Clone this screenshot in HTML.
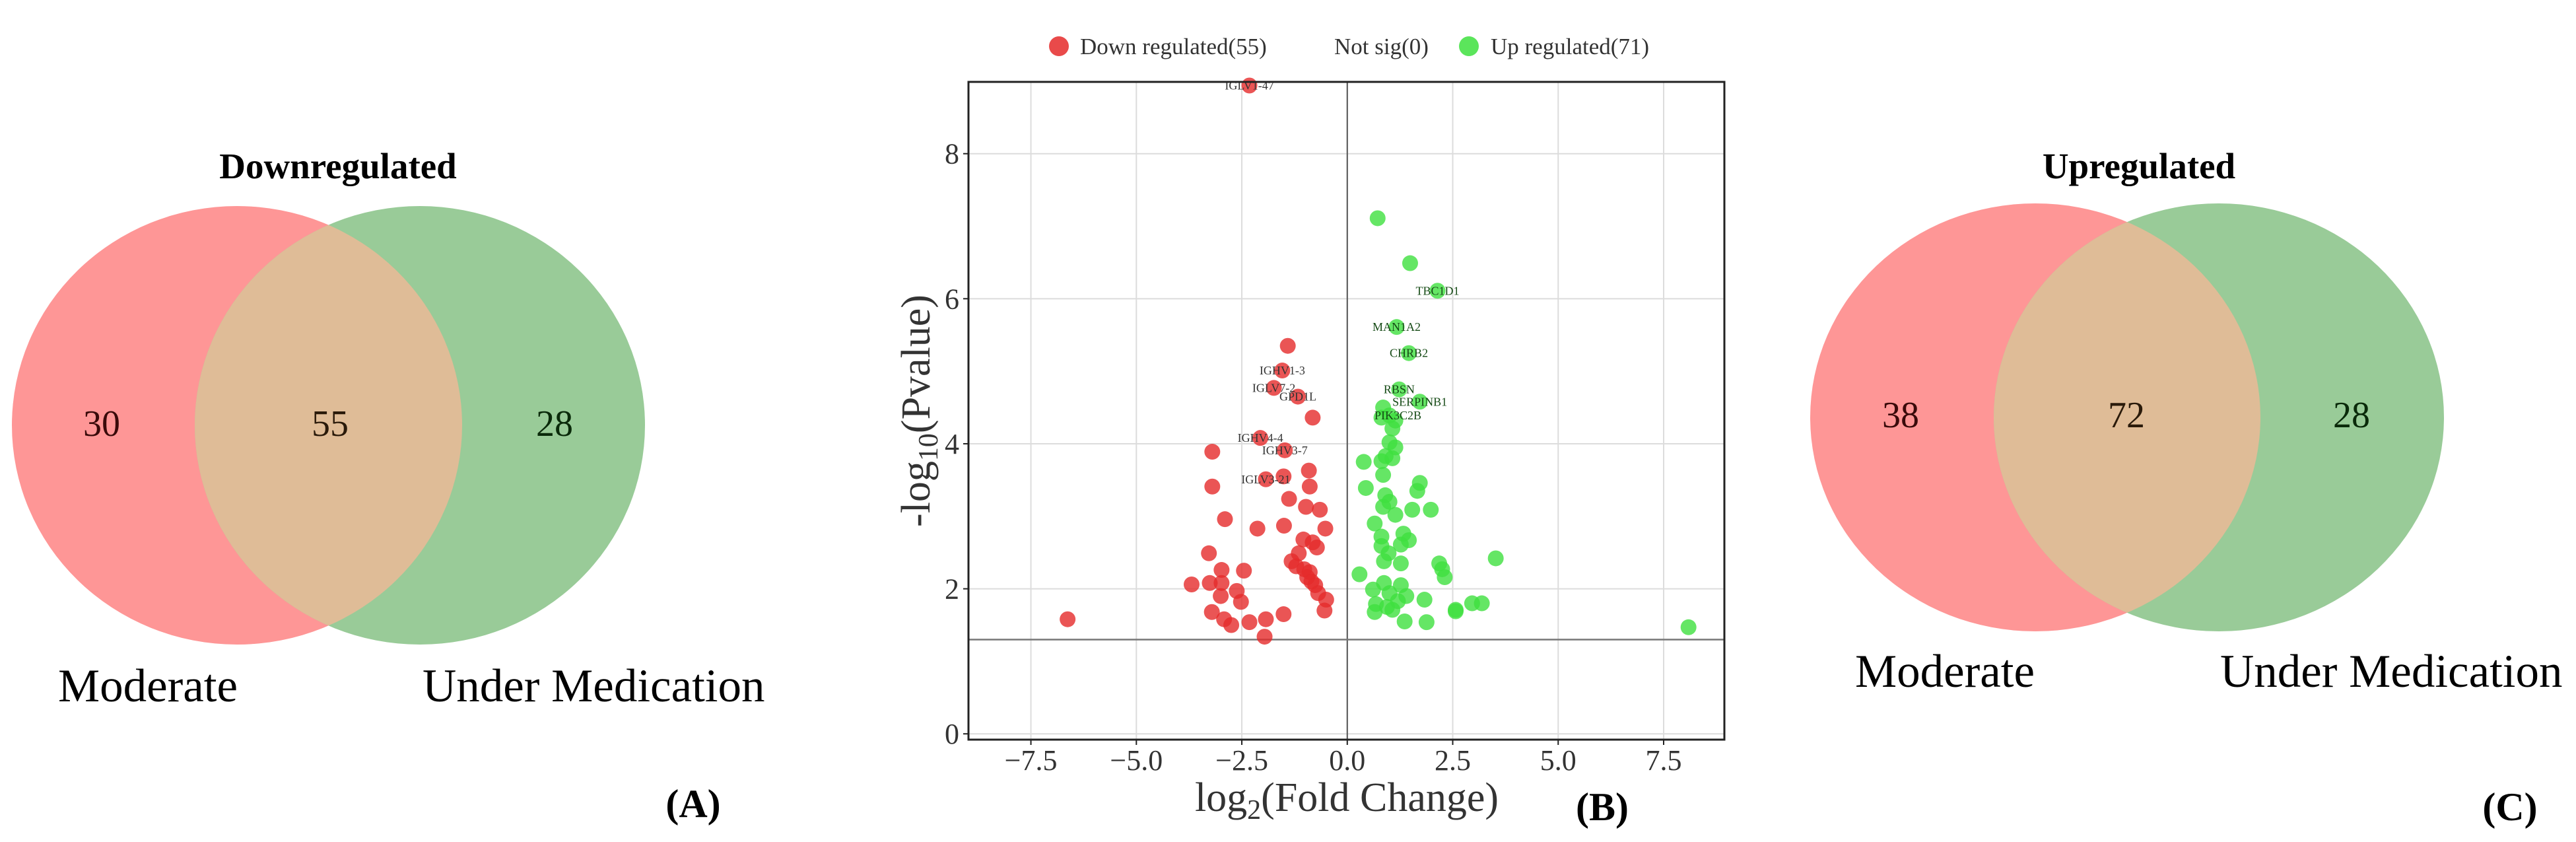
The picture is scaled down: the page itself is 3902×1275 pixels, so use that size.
<!DOCTYPE html>
<html><head><meta charset="utf-8"><style>
html,body{margin:0;padding:0;background:#fff;}
svg{display:block;font-family:"Liberation Serif",serif;}
</style></head><body>
<svg id="fig" width="3902" height="1275" viewBox="0 0 3902 1275" xmlns="http://www.w3.org/2000/svg">
<defs>
 <clipPath id="clipA"><ellipse cx="359" cy="644" rx="341" ry="332"/></clipPath>
 <clipPath id="clipC"><ellipse cx="3083" cy="632" rx="341" ry="324"/></clipPath>
</defs>
<g>
 <text x="512" y="270" font-size="55" font-weight="bold" text-anchor="middle">Downregulated</text>
 <ellipse cx="359" cy="644" rx="341" ry="332" fill="#fe9696"/>
 <ellipse cx="636" cy="644" rx="341" ry="332" fill="#99cb98"/>
 <ellipse cx="636" cy="644" rx="341" ry="332" fill="#dfbc97" clip-path="url(#clipA)"/>
 <text x="154" y="660" font-size="56" text-anchor="middle" fill="#3a0a0a">30</text>
 <text x="500" y="660" font-size="56" text-anchor="middle" fill="#2a1a0a">55</text>
 <text x="840" y="660" font-size="56" text-anchor="middle" fill="#0a2a0a">28</text>
 <text x="88" y="1062" font-size="71">Moderate</text>
 <text x="640" y="1062" font-size="71">Under Medication</text>
 <text x="1050" y="1237" font-size="60" font-weight="bold" text-anchor="middle">(A)</text>
</g>
<g>
 <text x="3240" y="270" font-size="55" font-weight="bold" text-anchor="middle">Upregulated</text>
 <ellipse cx="3083" cy="632" rx="341" ry="324" fill="#fe9696"/>
 <ellipse cx="3361" cy="632" rx="341" ry="324" fill="#99cb98"/>
 <ellipse cx="3361" cy="632" rx="341" ry="324" fill="#dfbc97" clip-path="url(#clipC)"/>
 <text x="2879" y="647" font-size="56" text-anchor="middle" fill="#3a0a0a">38</text>
 <text x="3221" y="647" font-size="56" text-anchor="middle" fill="#2a1a0a">72</text>
 <text x="3562" y="647" font-size="56" text-anchor="middle" fill="#0a2a0a">28</text>
 <text x="2810" y="1040" font-size="71">Moderate</text>
 <text x="3363" y="1040" font-size="71">Under Medication</text>
 <text x="3802" y="1242" font-size="60" font-weight="bold" text-anchor="middle">(C)</text>
</g>
<g id="volcano"></g>
</svg>
<script>
const xTicks=[-7.5,-5,-2.5,0,2.5,5,7.5];
const xTickLabels=["\u22127.5","\u22125.0","\u22122.5","0.0","2.5","5.0","7.5"];
const yTicks=[0,2,4,6,8];
const yTickLabels=["0","2","4","6","8"];
const threshold=1.3;
const downX=[-2.32,-6.63,-1.41,-1.54,-1.74,-1.17,-0.82,-2.06,-1.48,-3.2,-0.91,-3.2,-1.93,-1.51,-0.89,-1.38,-2.9,-0.98,-0.65,-2.13,-1.5,-0.52,-3.28,-1.04,-0.82,-0.72,-1.15,-1.32,-2.98,-2.45,-1.02,-0.89,-1.21,-3.69,-3.26,-2.98,-0.85,-0.76,-0.95,-2.62,-3.0,-2.52,-0.5,-3.21,-2.92,-2.75,-2.32,-1.93,-1.51,-0.54,-1.96,-0.69];
const downY=[8.94,1.58,5.35,5.01,4.77,4.65,4.36,4.08,3.91,3.89,3.63,3.41,3.51,3.55,3.41,3.24,2.96,3.13,3.09,2.83,2.87,2.83,2.49,2.68,2.64,2.57,2.49,2.38,2.26,2.25,2.27,2.23,2.31,2.06,2.08,2.08,2.1,2.05,2.16,1.97,1.9,1.82,1.85,1.68,1.58,1.5,1.54,1.58,1.65,1.7,1.34,1.94];
const upX=[0.72,1.49,2.14,1.17,1.46,1.23,1.72,0.85,1.0,0.81,1.14,1.07,1.0,1.14,0.91,1.07,0.39,0.81,0.85,1.72,1.66,0.44,0.9,1.0,0.85,1.54,1.98,1.14,0.65,0.81,1.33,1.46,1.27,0.81,0.98,3.52,0.87,1.27,2.18,2.25,0.29,2.31,0.87,1.27,0.61,1.0,1.4,1.83,2.96,3.19,0.68,0.94,2.57,0.65,1.07,2.57,1.36,1.88,8.09,1.2];
const upY=[7.11,6.49,6.11,5.61,5.25,4.75,4.58,4.5,4.39,4.36,4.32,4.21,4.02,3.95,3.83,3.8,3.75,3.76,3.57,3.46,3.35,3.39,3.29,3.2,3.13,3.09,3.09,3.02,2.9,2.72,2.76,2.67,2.61,2.59,2.49,2.42,2.38,2.35,2.35,2.27,2.2,2.16,2.08,2.05,1.99,1.94,1.9,1.85,1.8,1.8,1.79,1.75,1.71,1.68,1.71,1.69,1.55,1.54,1.47,1.83];
const geneNames=["IGLV1-47","IGHV1-3","IGLV7-2","GPD1L","IGHV4-4","IGHV3-7","IGLV3-21","TBC1D1","MAN1A2","CHRB2","RBSN","SERPINB1","PIK3C2B"];
const geneX=[-2.32,-1.54,-1.74,-1.17,-2.06,-1.48,-1.93,2.14,1.17,1.46,1.23,1.72,1.2];
const geneY=[8.94,5.01,4.77,4.65,4.08,3.91,3.51,6.11,5.61,5.25,4.75,4.58,4.39];

const NS="http://www.w3.org/2000/svg";
const g=document.getElementById('volcano');
const L=1467,R=2612,T=124,B=1120;
const xMin=-8.98,xMax=8.94,yMin=-0.08,yMax=8.99;
const sx=v=>L+(v-xMin)/(xMax-xMin)*(R-L);
const sy=v=>B-(v-yMin)/(yMax-yMin)*(B-T);
function mk(tag,attrs,parent){const e=document.createElementNS(NS,tag);for(const k in attrs)e.setAttribute(k,attrs[k]);(parent||g).appendChild(e);return e;}

xTicks.forEach(t=>{const e=mk('line',{x1:sx(t),x2:sx(t),y1:T,y2:B,stroke:'#dcdcdc','stroke-width':2});

});
yTicks.forEach(t=>{const e=mk('line',{x1:L,x2:R,y1:sy(t),y2:sy(t),stroke:'#dcdcdc','stroke-width':2});

});
let zl=mk('line',{x1:sx(0),x2:sx(0),y1:T,y2:B,stroke:'#555','stroke-width':2});


let th=mk('line',{x1:L,x2:R,y1:sy(threshold),y2:sy(threshold),stroke:'#777','stroke-width':2.5});


downX.forEach((v,i)=>{const c=mk('circle',{cx:sx(v),cy:sy(downY[i]),r:12,fill:'#e52a2a','fill-opacity':0.8});

});
upX.forEach((v,i)=>{const c=mk('circle',{cx:sx(v),cy:sy(upY[i]),r:12,fill:'#3ee03e','fill-opacity':0.8});

});
geneNames.forEach((n,i)=>{const t=mk('text',{x:sx(geneX[i]),y:sy(geneY[i])+6,'font-size':18,'text-anchor':'middle',fill:geneX[i]<0?'#333':'#154a15'});t.textContent=n;

});
let fr=mk('rect',{x:L,y:T,width:R-L,height:B-T,fill:'none',stroke:'#222','stroke-width':3});


xTicks.forEach((t,i)=>{mk('line',{x1:sx(t),x2:sx(t),y1:B,y2:B+8,stroke:'#222','stroke-width':2});
const l=mk('text',{x:sx(t),y:B+46,'font-size':44,'text-anchor':'middle',fill:'#333'});l.textContent=xTickLabels[i];

});
yTicks.forEach((t,i)=>{mk('line',{x1:L-8,x2:L,y1:sy(t),y2:sy(t),stroke:'#222','stroke-width':2});
const l=mk('text',{x:L-14,y:sy(t)+15,'font-size':44,'text-anchor':'end',fill:'#333'});l.textContent=yTickLabels[i];

});
let xt=mk('text',{x:2040,y:1228,'font-size':62,'text-anchor':'middle',fill:'#333'});
xt.innerHTML='log<tspan font-size="42" dy="12">2</tspan><tspan dy="-12">(Fold Change)</tspan>';


let yt=mk('text',{x:0,y:0,'font-size':62,'text-anchor':'middle',fill:'#333',transform:'translate(1408,622) rotate(-90)'});
yt.innerHTML='-log<tspan font-size="42" dy="12">10</tspan><tspan dy="-12">(Pvalue)</tspan>';


let pb=mk('text',{x:2427,y:1242,'font-size':60,'font-weight':'bold','text-anchor':'middle'});pb.textContent='(B)';


let lg=mk('g',{});


let d1=mk('circle',{cx:1604,cy:70,r:15,fill:'#e52a2a','fill-opacity':0.85},lg);


let t1=mk('text',{x:1636,y:82,'font-size':35,fill:'#333'},lg);t1.textContent='Down regulated(55)';


let t2=mk('text',{x:2021,y:82,'font-size':35,fill:'#333'},lg);t2.textContent='Not sig(0)';


let d3=mk('circle',{cx:2225,cy:70,r:15,fill:'#3ee03e','fill-opacity':0.85},lg);


let t3=mk('text',{x:2258,y:82,'font-size':35,fill:'#333'},lg);t3.textContent='Up regulated(71)';


</script>
</body></html>
